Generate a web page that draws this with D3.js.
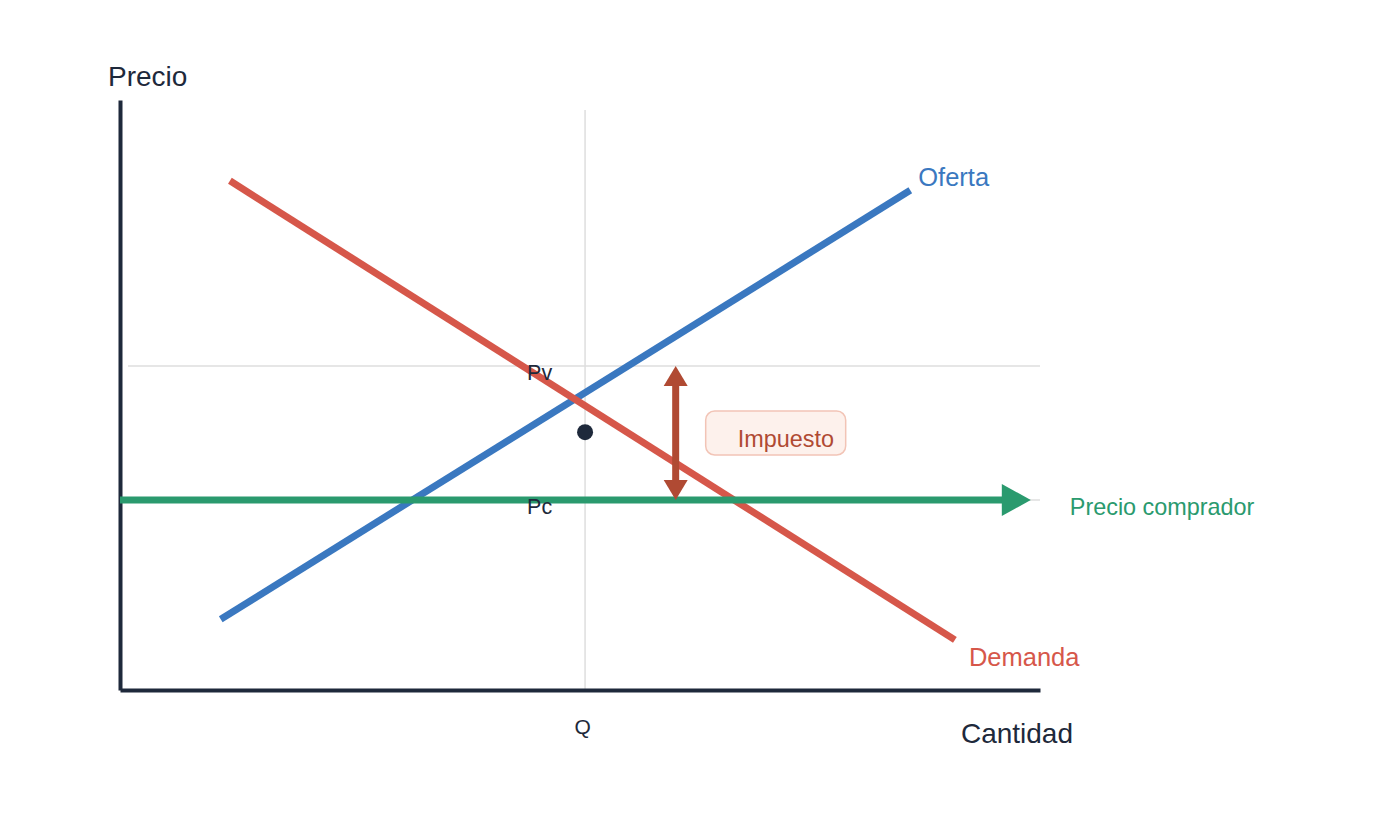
<!DOCTYPE html>
<html>
<head>
<meta charset="utf-8">
<script src="https://cdn.jsdelivr.net/npm/d3@7"></script>
<style>
  body { margin: 0; background: #fff; }
  text { font-family: "Liberation Sans", Arial, sans-serif; }
</style>
</head>
<body>
<div id="chart-area"></div>
<script>
// curve end points, in chart units (0-100 on both axes)
var ofertaX = [10.95, 85.9],
	ofertaY = [12.0, 84.7];
var demandaX = [11.95, 90.75],
	demandaY = [86.3, 8.5];

var qEq = 50.55;      // cantidad con impuesto
var pv = 54.9;        // precio vendedor
var pc = 32.2;        // precio comprador
var puntoY = 43.7;    // punto sin impuesto
var impuestoX = 60.4;
var compradorEnd = 99.0;

var ejeLabels = ["Precio", "Cantidad"];
var curvaLabels = ["Oferta", "Demanda"];

var width = 1400, height = 820;

var svg = d3.select("#chart-area")
	.append("svg")
		.attr("width", width)
		.attr("height", height);

var x = d3.scaleLinear().domain([0, 100]).range([120, 1040]);
var y = d3.scaleLinear().domain([0, 100]).range([690, 100]);

var ink = "#1e293b",
	azul = "#3a78c0",
	rojo = "#d6574a",
	verde = "#2a9a6e",
	marron = "#b04a33",
	grid = "#dedede";

// grid lines at Q, Pv, Pc
svg.append("line")
	.attr("x1", x(qEq)).attr("x2", x(qEq))
	.attr("y1", y(98.3)).attr("y2", y(0))
	.attr("stroke", grid).attr("stroke-width", 1.5);

svg.selectAll(".hgrid")
	.data([pv, pc])
	.enter()
	.append("line")
		.attr("class", "hgrid")
		.attr("x1", x(0.87)).attr("x2", x(100))
		.attr("y1", function(d){ return y(d); })
		.attr("y2", function(d){ return y(d); })
		.attr("stroke", grid).attr("stroke-width", 1.5);

// axes
var xAxisCall = d3.axisBottom(x)
	.tickValues([qEq])
	.tickFormat(function(){ return "Q"; })
	.tickSize(0)
	.tickPadding(29);

var xAxis = svg.append("g")
	.attr("transform", "translate(0," + y(0) + ")")
	.call(xAxisCall);
xAxis.select(".domain").attr("stroke", ink).attr("stroke-width", 4);
xAxis.selectAll("text")
	.attr("font-size", 21)
	.attr("fill", ink)
	.attr("font-family", "Liberation Sans, Arial, sans-serif")
	.attr("dx", -3);

var yAxisCall = d3.axisLeft(y).tickValues([]).tickSizeOuter(0);
var yAxis = svg.append("g")
	.attr("transform", "translate(" + x(0) + ",0)")
	.call(yAxisCall);
yAxis.select(".domain").attr("stroke", ink).attr("stroke-width", 4);

svg.append("text")
	.attr("x", x(0) - 12).attr("y", 86)
	.attr("font-size", 28).attr("fill", ink)
	.text(ejeLabels[0]);

svg.append("text")
	.attr("x", x(100) + 33).attr("y", 743)
	.attr("font-size", 28).attr("fill", ink)
	.attr("text-anchor", "end")
	.text(ejeLabels[1]);

// curves
var line = d3.line()
	.x(function(d){ return x(d[0]); })
	.y(function(d){ return y(d[1]); });

svg.append("path")
	.datum(d3.zip(ofertaX, ofertaY))
	.attr("d", line)
	.attr("stroke", azul).attr("stroke-width", 7).attr("fill", "none");

svg.append("path")
	.datum(d3.zip(demandaX, demandaY))
	.attr("d", line)
	.attr("stroke", rojo).attr("stroke-width", 7).attr("fill", "none");

svg.append("text")
	.attr("x", x(ofertaX[1]) + 8).attr("y", y(ofertaY[1]) - 4)
	.attr("font-size", 25.5).attr("fill", azul)
	.text(curvaLabels[0]);

svg.append("text")
	.attr("x", x(demandaX[1]) + 14).attr("y", y(demandaY[1]) + 26)
	.attr("font-size", 25.5).attr("fill", rojo)
	.text(curvaLabels[1]);

// precio comprador arrow
svg.append("line")
	.attr("x1", x(0)).attr("x2", x(compradorEnd) - 26)
	.attr("y1", y(pc)).attr("y2", y(pc))
	.attr("stroke", verde).attr("stroke-width", 7);

svg.append("path")
	.attr("d", d3.line()([
		[x(compradorEnd), y(pc)],
		[x(compradorEnd) - 29, y(pc) - 16],
		[x(compradorEnd) - 29, y(pc) + 16]
	]) + "Z")
	.attr("fill", verde);

svg.append("text")
	.attr("x", x(compradorEnd) + 39).attr("y", y(pc) + 15)
	.attr("font-size", 23.4).attr("fill", verde)
	.text("Precio comprador");

// Pv / Pc labels
svg.selectAll(".plabel")
	.data([["Pv", pv], ["Pc", pc]])
	.enter()
	.append("text")
		.attr("class", "plabel")
		.attr("x", x(qEq) - 58)
		.attr("y", function(d){ return y(d[1]) + 14; })
		.attr("font-size", 21.5).attr("fill", ink)
		.text(function(d){ return d[0]; });

// punto
svg.append("circle")
	.attr("cx", x(qEq)).attr("cy", y(puntoY))
	.attr("r", 8).attr("fill", ink);

// impuesto double arrow
svg.append("line")
	.attr("x1", x(impuestoX)).attr("x2", x(impuestoX))
	.attr("y1", y(pv) + 15).attr("y2", y(pc) - 15)
	.attr("stroke", marron).attr("stroke-width", 7);

svg.selectAll(".head")
	.data([[pv, 1], [pc, -1]])
	.enter()
	.append("path")
		.attr("class", "head")
		.attr("d", function(d){
			var tx = x(impuestoX), ty = y(d[0]);
			return d3.line()([[tx, ty], [tx - 12, ty + 20 * d[1]], [tx + 12, ty + 20 * d[1]]]) + "Z";
		})
		.attr("fill", marron);

svg.append("rect")
	.attr("x", x(impuestoX) + 30).attr("y", 411)
	.attr("width", 140).attr("height", 44)
	.attr("rx", 9)
	.attr("fill", "#fdf1ec")
	.attr("stroke", "#f2c4b6").attr("stroke-width", 1.5);

svg.append("text")
	.attr("x", x(impuestoX) + 62).attr("y", 447)
	.attr("font-size", 23.4).attr("fill", marron)
	.text("Impuesto");
</script>
</body>
</html>
